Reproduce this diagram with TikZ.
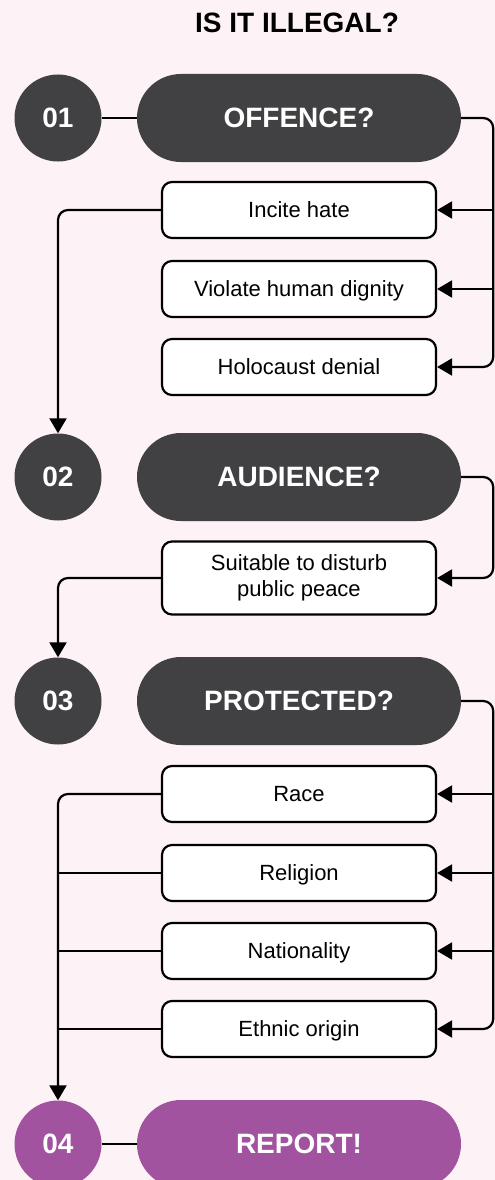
\documentclass[tikz,border=0pt]{standalone}
\usepackage{fontspec}
\setmainfont{Liberation Sans}
\usetikzlibrary{arrows.meta}
\definecolor{bgpink}{HTML}{FDF2F6}
\definecolor{darkgrey}{HTML}{414042}
\definecolor{reportpurple}{HTML}{A153A0}
\begin{document}
\begin{tikzpicture}[x=1pt, y=-1pt,
  numcirc/.style={circle, fill=darkgrey, text=white, minimum size=87pt, inner sep=0pt, font=\fontsize{28}{30}\selectfont\bfseries},
  pill/.style={rectangle, rounded corners=44pt, fill=darkgrey, text=white, minimum width=324pt, minimum height=88pt, inner sep=0pt, font=\fontsize{28}{30}\selectfont\bfseries},
  choice/.style={draw=black, line width=2.2pt, rounded corners=10pt, fill=white, minimum width=274pt, minimum height=56pt, inner sep=0pt, font=\fontsize{22}{26}\selectfont},
  single/.style={choice, text height=15.5pt, text depth=0pt},
  link/.style={line width=2.2pt, rounded corners=10pt},
  arr/.style={link, -{Triangle[length=15pt, width=17pt]}}]
\useasboundingbox (0,0) rectangle (495,1180);
\clip (0,0) rectangle (495,1180);
\fill[bgpink] (0,0) rectangle (495,1180);
\node[font=\fontsize{28}{30}\selectfont\bfseries] (title) at (297,23) {IS IT ILLEGAL?};
% step 1
\node[numcirc] (n1) at (58,118) {01};
\node[pill] (q1) at (299,118) {OFFENCE?};
\node[single] (a1) at (299,210) {Incite hate};
\node[single] (a2) at (299,289) {Violate human dignity};
\node[single] (a3) at (299,367) {Holocaust denial};
% step 2
\node[numcirc] (n2) at (58,477) {02};
\node[pill] (q2) at (299,477) {AUDIENCE?};
\node[choice, minimum height=73pt, align=center] (b1) at (299,578) {Suitable to disturb\\public peace};
% step 3
\node[numcirc] (n3) at (58,701) {03};
\node[pill] (q3) at (299,701) {PROTECTED?};
\node[single] (c1) at (299,794) {Race};
\node[single] (c2) at (299,873) {Religion};
\node[single] (c3) at (299,951) {Nationality};
\node[single] (c4) at (299,1029) {Ethnic origin};
% step 4
\node[numcirc, fill=reportpurple] (n4) at (58,1144) {04};
\node[pill, fill=reportpurple] (q4) at (299,1144) {REPORT!};

\draw[link] (n1) -- (q1);
\draw[arr] (q1.east) -- ++(32,0) coordinate (rail1) |- (a3.east);
\draw[arr] (rail1 |- a1.east) -- (a1.east);
\draw[arr] (rail1 |- a2.east) -- (a2.east);
\draw[arr] (a1.west) -| (n2.north);

\draw[arr] (q2.east) -- ++(32,0) |- (b1.east);
\draw[arr] (b1.west) -| (n3.north);

\draw[arr] (q3.east) -- ++(32,0) coordinate (rail3) |- (c4.east);
\foreach \c in {c1,c2,c3}
  \draw[arr] (rail3 |- \c.east) -- (\c.east);
\draw[arr] (c1.west) -| (n4.north);
\foreach \c in {c2,c3,c4}
  \draw[link] (\c.west) -- (\c.west -| n4.north);
\draw[link] (n4) -- (q4);
\end{tikzpicture}
\end{document}
